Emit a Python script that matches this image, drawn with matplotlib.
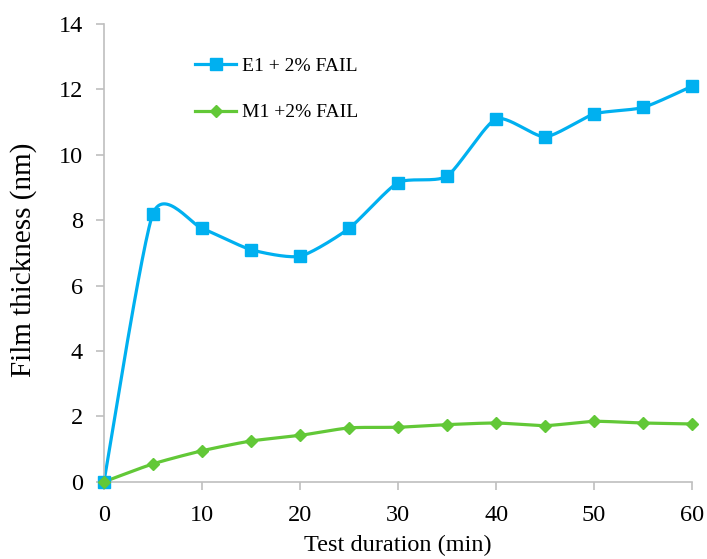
import numpy as np
import matplotlib
matplotlib.use("Agg")
import matplotlib.pyplot as plt

plt.rcParams["font.family"] = ["Liberation Serif", "DejaVu Serif"]

# test duration (min)
duration = [0, 5, 10, 15, 20, 25, 30, 35, 40, 45, 50, 55, 60]
# film thickness (nm)
e1_fail = [0.0, 8.2, 7.75, 7.1, 6.9, 7.75, 9.15, 9.35, 11.1, 10.55, 11.25, 11.45, 12.1]
m1_fail = [0.0, 0.55, 0.95, 1.25, 1.42, 1.65, 1.67, 1.75, 1.8, 1.72, 1.85, 1.8, 1.77]


def smooth(x, y, n=30, k=0.65):
    """Excel-like smoothed line: Catmull-Rom segments as cubic Beziers."""
    x = np.asarray(x, float)
    y = np.asarray(y, float)
    px = np.concatenate([[x[0]], x, [x[-1]]])
    py = np.concatenate([[y[0]], y, [y[-1]]])
    t = np.linspace(0, 1, n)[:, None]
    xs, ys = [], []
    for i in range(1, len(px) - 2):
        p0 = np.array([px[i - 1], py[i - 1]])
        p1 = np.array([px[i], py[i]])
        p2 = np.array([px[i + 1], py[i + 1]])
        p3 = np.array([px[i + 2], py[i + 2]])
        c1 = p1 + k * (p2 - p0) / 6
        c2 = p2 - k * (p3 - p1) / 6
        pts = ((1 - t) ** 3) * p1 + 3 * ((1 - t) ** 2) * t * c1 + 3 * (1 - t) * t ** 2 * c2 + t ** 3 * p2
        xs.append(pts[:, 0])
        ys.append(pts[:, 1])
    return np.concatenate(xs), np.concatenate(ys)


blue = "#00B0F0"
green = "#62C837"
grey = "#BFBFBF"

fig = plt.figure(figsize=(7.07, 5.59), dpi=100)
ax = fig.add_axes([0.147, 0.138, 0.832, 0.819])

for yv, col, mk, ms, lab in [
    (e1_fail, blue, "s", 9, "E1 + 2% FAIL"),
    (m1_fail, green, "D", 6, "M1 +2% FAIL"),
]:
    sx, sy = smooth(duration, yv)
    ax.plot(sx, sy, color=col, lw=2.3, zorder=2, clip_on=False)
    ax.plot(duration, yv, ls="none", marker=mk, ms=ms, color=col, zorder=3, clip_on=False)
    ax.plot([], [], color=col, lw=2.3, marker=mk, ms=ms, label=lab)

ax.set_xlim(0, 60)
ax.set_ylim(0, 14)
ax.set_xticks(range(0, 61, 10))
ax.set_yticks(range(0, 15, 2))
ax.set_xlabel("Test duration (min)", fontsize=17.5, labelpad=6)
ax.set_ylabel("Film thickness (nm)", fontsize=21)
ax.yaxis.set_label_coords(-0.113, 0.485)

for s in ["top", "right"]:
    ax.spines[s].set_visible(False)
for s in ["left", "bottom"]:
    ax.spines[s].set_color(grey)
    ax.spines[s].set_linewidth(1.2)
ax.tick_params(axis="both", colors=grey, labelcolor="black", labelsize=17.5,
               length=6, width=1.2, direction="out")
ax.tick_params(axis="y", pad=9)
ax.tick_params(axis="x", pad=11)

ax.legend(loc="upper left", bbox_to_anchor=(0.155, 0.928), frameon=False,
          borderpad=0, borderaxespad=0,
          fontsize=14, handlelength=2.1, handletextpad=0.3, labelspacing=1.5)

fig.savefig("out.png", dpi=100)
